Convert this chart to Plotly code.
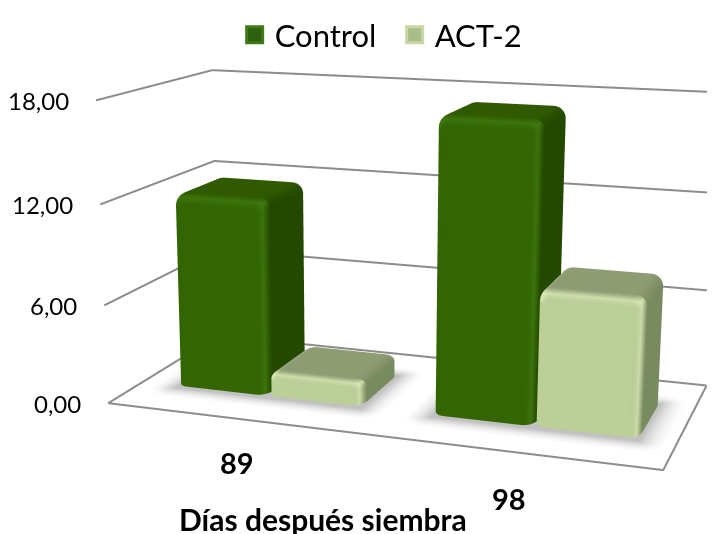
import numpy as np
import plotly.graph_objects as go

categories = ["89", "98"]
control = [12.0, 17.5]
act2 = [1.5, 8.05]
series_names = ["Control", "ACT-2"]
z_ticks = [0, 6, 12, 18]
z_labels = ["0,00", "6,00", "12,00", "18,00"]
category_centres = [0.5, 1.5]
category_yshift = [-44, -47]
group_lefts = [0.147, 1.158]
BAR_W = 0.372
DEPTH = (0.27, 0.717)
FRAME_X = 2.03

EYE = dict(x=0.68436, y=-2.0973, z=0.5065)
CENTER = dict(x=0.0518, y=-0.3413, z=0.0403)
ASPECT = dict(x=0.77637, y=0.3658, z=0.4277)
FOCAL_PX = 1652.1
H = 534
fovy = 2 * np.arctan((H / 2) / FOCAL_PX)

GRID = "#8c8c8c"
FRONT = [np.array(c, float) for c in [(51, 102, 0), (187, 207, 151)]]
TOP = [np.array(c, float) for c in [(47, 90, 0), (142, 156, 115)]]
SIDE = [np.array(c, float) for c in [(35, 72, 0), (122, 138, 96)]]
HI = [np.array(c, float) for c in [(66, 125, 18), (222, 238, 185)]]
FLAT = dict(ambient=1, diffuse=0, specular=0, fresnel=0, roughness=1)


def grid_faces(nu, nv, base=0):
    I, J, K = [], [], []
    for i in range(nu - 1):
        for j in range(nv - 1):
            A = base + i * nv + j
            I += [A, A + nv]
            J += [A + 1, A + nv + 1]
            K += [A + nv, A + 1]
    return I, J, K


def rounded_box(x0, x1, y0, y1, z0, z1, rlo, rhi, k):
    lo = np.array([x0, y0, z0])
    hi = np.array([x1, y1, z1])
    rlo = np.array(rlo)
    rhi = np.array(rhi)
    ts = np.array([0, .2, .4, .6, .8, 1.0])

    def ax(i):
        return np.r_[lo[i] + rlo[i] * ts, hi[i] - rhi[i] * ts[::-1]]

    V, I, J, K, C = [], [], [], [], []
    for a in range(3):
        b, c = (a + 1) % 3, (a + 2) % 3
        for side in (lo[a], hi[a]):
            U, W = ax(b), ax(c)
            base = len(V)
            for u in U:
                for v in W:
                    p = np.zeros(3)
                    p[a], p[b], p[c] = side, u, v
                    q = np.clip(p, lo + rlo, hi - rhi)
                    r = np.where(p < q, rlo, rhi)
                    d = (p - q) / r
                    n = d / np.linalg.norm(d)
                    V.append(q + r * n)
                    n2 = n ** 2
                    col = (FRONT[k] * (n2[1] + (n2[0] if n[0] < 0 else 0)) +
                           SIDE[k] * ((n2[0] if n[0] > 0 else 0) + (n2[2] if n[2] < 0 else 0)) +
                           TOP[k] * (n2[2] if n[2] > 0 else 0))
                    h = (1 - n2.max()) * 1.5 if n[1] < 0 and (n[0] > 0 or n[2] > 0) else 0
                    col = col + min(h, 1) * (HI[k] - col)
                    C.append("rgb(%d,%d,%d)" % tuple(col))
            fi, fj, fk = grid_faces(len(U), len(W), base)
            I += fi
            J += fj
            K += fk
    V = np.array(V)
    return V[:, 0], V[:, 1], V[:, 2], I, J, K, C


def shadow(x0, x1, y0, y1, z):
    mx, my = 0.09, 0.11
    fall = np.array([1, .72, .45, .22, .08, 0])
    xs = np.r_[x0 - mx * fall, x1 + mx * fall[::-1]]
    ys = np.r_[y0 - my * fall, y1 + my * fall[::-1]]
    X, Y, C = [], [], []
    for a in xs:
        for b in ys:
            dx = max(x0 - a, a - x1, 0) / mx
            dy = max(y0 - b, b - y1, 0) / my
            s = max(0, 1 - np.hypot(dx, dy)) ** 1.6
            g = int(255 - 62 * s)
            X.append(a)
            Y.append(b)
            C.append("rgb(%d,%d,%d)" % (g, g, g))
    I, J, K = grid_faces(len(xs), len(ys))
    return X, Y, [z] * len(X), I, J, K, C


fig = go.Figure()
line = dict(color=GRID, width=4)
for left in group_lefts:
    X, Y, Z, I, J, K, C = shadow(left, left + 2 * BAR_W, DEPTH[0], DEPTH[1], -0.04)
    fig.add_trace(go.Mesh3d(x=X, y=Y, z=Z, i=I, j=J, k=K, vertexcolor=C, lighting=FLAT, showlegend=False, hoverinfo="skip"))
for z in z_ticks:
    fig.add_trace(go.Scatter3d(x=[0, 0, FRAME_X], y=[0, 1, 1], z=[z, z, z], mode="lines", line=line, showlegend=False, hoverinfo="skip"))
fig.add_trace(go.Scatter3d(x=[0, FRAME_X, FRAME_X], y=[0, 0, 1], z=[0, 0, 0], mode="lines", line=line, showlegend=False, hoverinfo="skip"))

for i, cat in enumerate(categories):
    for k, vals in enumerate([control, act2]):
        x0 = group_lefts[i] + k * BAR_W
        rz = min(0.75, vals[i] * .3)
        X, Y, Z, I, J, K, C = rounded_box(x0, x0 + BAR_W, DEPTH[0], DEPTH[1], 0, vals[i],
                                          (0.045, 0.07, 0.12), (0.045, 0.07, rz), k)
        fig.add_trace(go.Mesh3d(x=X, y=Y, z=Z, i=I, j=J, k=K, vertexcolor=C, flatshading=False, lighting=FLAT,
                                name=series_names[k], showlegend=False, hoverinfo="skip"))
KEY = ["#2f5f10", "#a9bd88"]
KEYL = ["#3f7a15", "#c7d8a5"]
for k, nm in enumerate(series_names):
    fig.add_trace(go.Scatter3d(x=[None], y=[None], z=[None], mode="markers", name=nm,
                               marker=dict(symbol="square", size=16, color=KEY[k], line=dict(color=KEYL[k], width=3))))

scene_ann = []
for z, lab in zip(z_ticks, z_labels):
    scene_ann.append(dict(x=0, y=0, z=z, text=lab, showarrow=False, xanchor="right", xshift=-25, yshift=0,
                          font=dict(family="Lato", size=24, color="#000000")))
for xc, lab, ys in zip(category_centres, categories, category_yshift):
    scene_ann.append(dict(x=xc, y=0, z=0, text="<b>%s</b>" % lab, showarrow=False, xshift=4, yshift=ys,
                          font=dict(family="Lato", size=29, color="#000000")))

axis = dict(visible=False, showspikes=False, autorange=False)
fig.update_layout(
    width=715, height=534, margin=dict(l=0, r=0, t=0, b=0), paper_bgcolor="white",
    showlegend=True, hovermode=False,
    legend=dict(orientation="h", x=0.317, y=1 - 18 / 534, xanchor="left", yanchor="middle", entrywidth=115, entrywidthmode="pixels",
                font=dict(family="Lato", size=31, color="#000000"), bgcolor="rgba(0,0,0,0)"),
    scene=dict(domain=dict(x=[0, 1], y=[0, 1]), aspectmode="manual", aspectratio=ASPECT,
               camera=dict(eye=EYE, center=CENTER, up=dict(x=0, y=0, z=1)),
               xaxis=dict(range=[0, FRAME_X], **axis), yaxis=dict(range=[0, 1], **axis), zaxis=dict(range=[-0.05, 18.05], **axis),
               annotations=scene_ann),
    annotations=[dict(x=315 / 715, y=1 - 511 / 534, xref="paper", yref="paper", xanchor="center", yanchor="middle",
                      text="<b>Días después siembra</b>", showarrow=False,
                      font=dict(family="Lato", size=30, color="#000000"))])
post = """var s=document.querySelector('.plotly-graph-div')._fullLayout.scene._scene;
s.glplot.fovy=%f; s.glplot.redraw();""" % fovy
fig.write_html("out.html", post_script=post)
